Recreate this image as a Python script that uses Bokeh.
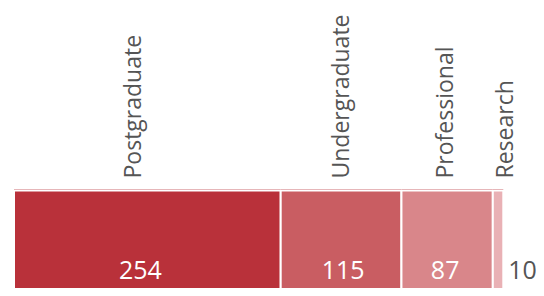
import numpy as np
from bokeh.plotting import figure
from bokeh.models import ColumnDataSource, Range1d
from bokeh.core.properties import value
from bokeh.embed import file_html
from bokeh.resources import INLINE

categories = ["Postgraduate", "Undergraduate", "Professional", "Research"]
counts = [254, 115, 87, 10]
colors = ["#b9313a", "#c95d62", "#d9868a", "#e9b1b5"]
label_offsets = [-15, -1, -3, 6]
value_offsets = [-7, 2, -2, 0]

W, H = 536, 288
vals = np.array(counts, dtype=float)
right = np.cumsum(vals)
left = right - vals
center = (left + right) / 2

px_per_unit = 1.05
x0 = -13.5 / px_per_unit
p = figure(width=W, height=H, output_backend="svg", toolbar_location=None,
           x_range=Range1d(x0, x0 + W / px_per_unit), y_range=Range1d(0, H),
           min_border=0, outline_line_color=None)
p.axis.visible = False
p.grid.visible = False
p.background_fill_color = "white"
p.border_fill_color = "white"

bar_top = 98
src = ColumnDataSource(dict(left=left, right=right, color=colors, cat=categories,
                            center=center, lab=[str(c) for c in counts],
                            loff=label_offsets, voff=value_offsets))
p.quad(left="left", right="right", bottom=-10, top=bar_top, fill_color="color",
       line_color="white", line_width=2, source=src)
# light highlight at the top of each bar
p.segment(x0="left", x1="right", y0=bar_top + 1, y1=bar_top + 1, line_color="#e6b6b9",
          line_width=1.2, source=src)

# category labels, rotated
p.text(x="center", y=bar_top + 12, text="cat", angle=np.pi / 2, x_offset="loff",
       text_align="left", text_baseline="middle", text_color="#555555",
       text_font=value("Open Sans"), text_font_size="23px", source=src)

# values inside bars (all except the narrow last one)
value_y = 19
inside = ColumnDataSource(dict(x=center[:-1], t=[str(c) for c in counts[:-1]],
                               off=value_offsets[:-1]))
p.text(x="x", y=value_y, text="t", x_offset="off", text_align="center",
       text_baseline="middle", text_color="white",
       text_font=value("Open Sans"), text_font_size="25px", source=inside)
outside = ColumnDataSource(dict(x=[right[-1]], t=[str(counts[-1])]))
p.text(x="x", y=value_y, text="t", x_offset=5, text_align="left",
       text_baseline="middle", text_color="#555555",
       text_font=value("Open Sans"), text_font_size="25px", source=outside)

open("out.html", "w").write(file_html(p, INLINE))
